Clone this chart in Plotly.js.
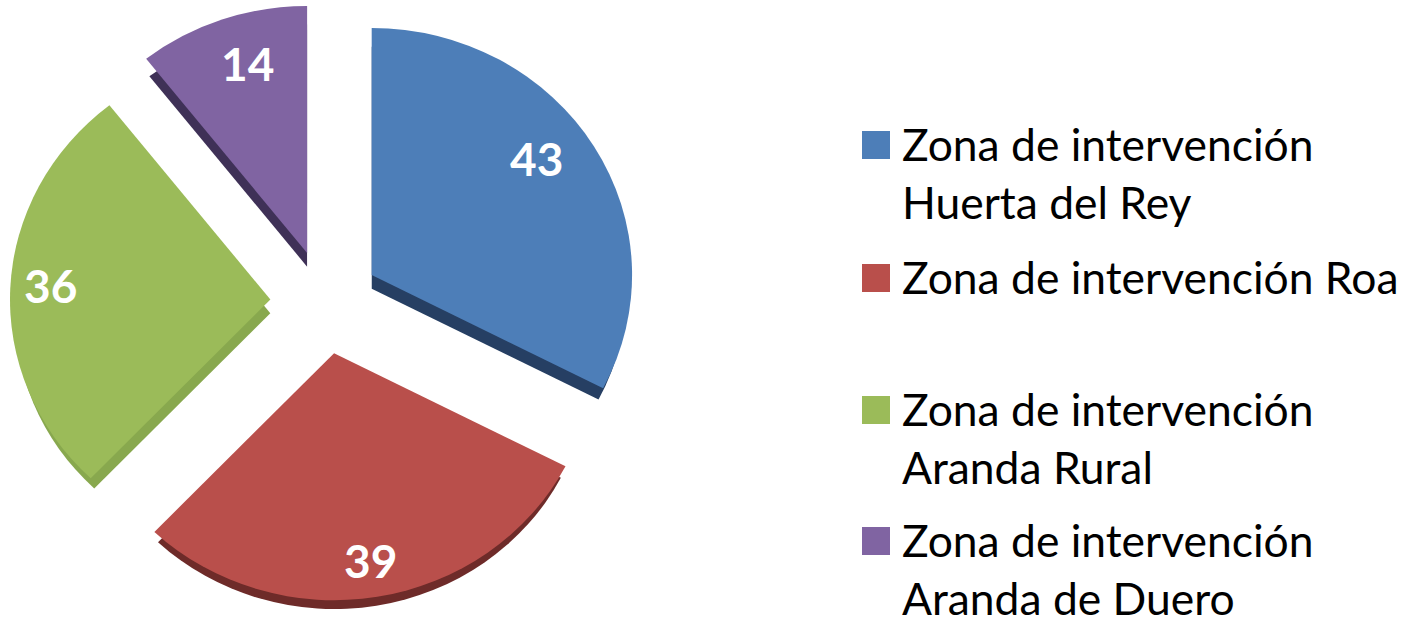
<!DOCTYPE html>
<html><head><meta charset="utf-8">
<script src="https://cdn.plot.ly/plotly-3.0.1.min.js"></script>
<style>html,body{margin:0;padding:0;width:1410px;height:620px;overflow:hidden;background:#fff}#chart{position:absolute;left:0;top:-7px;width:1410px;height:660px}</style>
</head><body><div id="chart"></div>
<script>
const zoneLabels = ["Zona de intervención<br>Huerta del Rey","Zona de intervención Roa","Zona de intervención<br>Aranda Rural","Zona de intervención<br>Aranda de Duero"];
const zoneValues = [43,39,36,14];
const faceColors = ["#4d7eb8","#b94f4b","#9bbb59","#8064a2"];
const sideColors = ["#263f63","#6e2b29","#88a84e","#3f3157"];
const facePulls = [0.21,0.21,0.21,0.21];
const sidePulls = [0.2146,0.2146,0.2146,0.2146];
const labelX = [536,370,50,247], labelY = [158,560,285,63];
const legendY = [145,278,410,541];
const W=1410,H=660,off=7;
const px = x => x/W, py = y => 1-(y+off)/H;
const base = {type:'pie',labels:zoneLabels,values:zoneValues,sort:false,direction:'clockwise',rotation:0,textinfo:'none',hoverinfo:'skip',showlegend:false};
const data = [
 Object.assign({},base,{pull:sidePulls,marker:{colors:sideColors,line:{width:0}},
   domain:{x:[26/W,626/W],y:[(H-619)/H,(H-19)/H]}}),
 Object.assign({},base,{pull:facePulls,marker:{colors:faceColors,line:{width:0}},
   domain:{x:[21/W,631/W],y:[(H-610)/H,1]}})
];
const valueNotes = zoneValues.map((v,i)=>({xref:'paper',yref:'paper',x:px(labelX[i]),y:py(labelY[i]),text:String(v),showarrow:false,xanchor:'center',yanchor:'middle',font:{size:46,color:'#fff',family:'Lato, sans-serif',weight:700}}));
const legendNotes = zoneLabels.map((t,i)=>({xref:'paper',yref:'paper',x:px(901),y:py(legendY[i]-29),text:t,showarrow:false,xanchor:'left',yanchor:'top',align:'left',borderpad:0,font:{size:44.4,color:'#000',family:'Lato, sans-serif'}}));
const swatches = faceColors.map((c,i)=>({type:'rect',xref:'paper',yref:'paper',x0:px(862),x1:px(890),y0:py(legendY[i]+14),y1:py(legendY[i]-14),fillcolor:c,line:{width:0}}));
const layout = {width:W,height:H,margin:{l:0,r:0,t:0,b:0},paper_bgcolor:'#fff',showlegend:false,
 font:{family:'Lato, sans-serif',color:'#000'},annotations:valueNotes.concat(legendNotes),shapes:swatches};
// the reference pie is slightly elliptical (3-D perspective)
function squash(){
  const sx=1.033, sy=0.98, cx=326, cy=305;
  document.querySelectorAll('#chart .pielayer').forEach(g=>g.setAttribute('transform',
    `translate(${cx-1},${cy+4}) scale(${sx},${sy}) translate(${-cx},${-cy})`));
}
Plotly.newPlot('chart',data,layout,{displayModeBar:false,staticPlot:true}).then(squash);
</script></body></html>
